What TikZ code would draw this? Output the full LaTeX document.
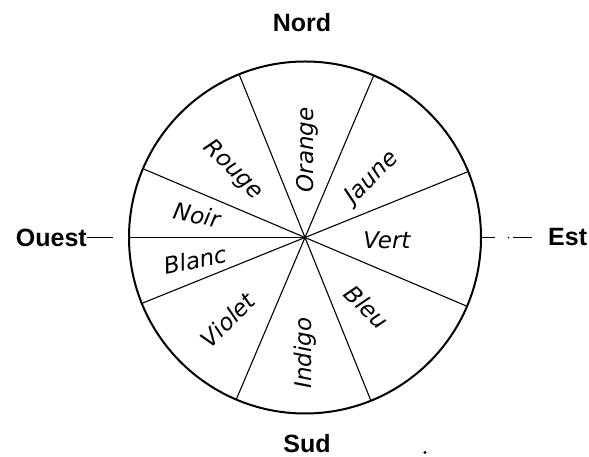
\documentclass[tikz,border=0pt]{standalone}
\usepackage{fontspec}
\setmainfont{DejaVu Sans}
\newfontfamily\headfont{Liberation Sans}
\begin{document}
\begin{tikzpicture}[x=1pt,y=1pt,
  lab/.style={font=\fontsize{23}{27}\selectfont\itshape, inner sep=0pt},
  head/.style={font=\headfont\bfseries\fontsize{25}{30}\selectfont, inner sep=0pt},
  spoke/.style={line width=1.1pt},
  rim/.style={circle,draw,line width=2pt,minimum size=352pt,inner sep=0pt,outer sep=0pt},
  thin/.style={line width=1.1pt}]
\useasboundingbox (0,0) rectangle (589,457);
\coordinate (O) at (305,219.5);
\node[rim] (C) at (O) {};
\foreach \a in {22.5,67.5,112.5,157.5,180,202.5,247.5,292.5,337.5}
  \draw[spoke] (O) -- (C.\a);
% colour labels
\node[lab,rotate=90] (orange) at (307,307) {Orange};
\node[lab,rotate=45] (jaune) at (372,279) {Jaune};
\node[lab] (vert) at (387,217) {Vert};
\node[lab,rotate=-45] (bleu) at (367,150) {Bleu};
\node[lab,rotate=90] (indigo) at (305,104) {Indigo};
\node[lab,rotate=45] (violet) at (228,137) {Violet};
\node[lab,rotate=-45] (rouge) at (233,287) {Rouge};
\node[lab,rotate=-11.25] (noir) at (197,242) {Noir};
\node[lab,rotate=11.25] (blanc) at (195,197) {Blanc};
% compass
\node[head] (nord) at (302,434) {Nord};
\node[head] (sud) at (307,13) {Sud};
\node[head,anchor=east] (ouest) at (87,219.5) {Ouest};
\node[head,anchor=west] (est) at (548,219.5) {Est};
\coordinate (wd) at (113,219.5);
\draw[line width=1.6pt] (ouest.east) -- (wd);
\coordinate (e1) at (495,219.5);
\coordinate (e2) at (513,219.5);
\coordinate (e3) at (532,219.5);
\coordinate (edot) at (508.5,219.5);
\draw[thin] (C.east) -- (e1);
\draw[thin] (e2) -- (e3);
\fill (edot) circle (0.9);
\coordinate (pd) at (425,4.5);
\fill (pd) circle (1.6);
\end{tikzpicture}
\end{document}
